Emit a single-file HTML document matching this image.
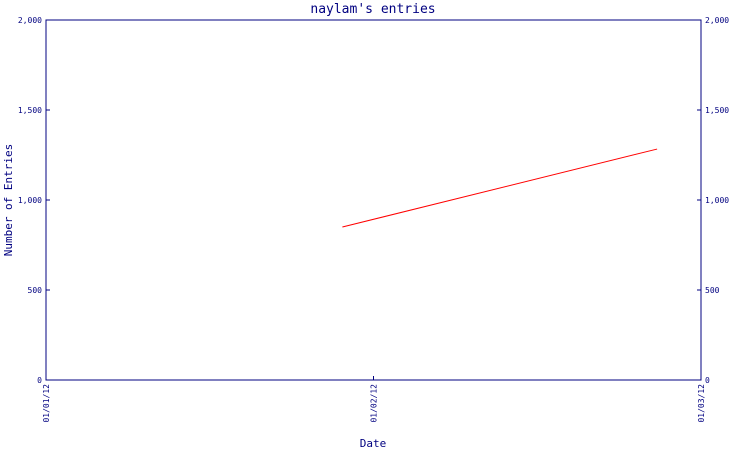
<!DOCTYPE html>
<html><head><meta charset="utf-8"><style>
body{margin:0;background:#fff}
svg text{font-family:"DejaVu Sans Mono","Liberation Mono",monospace;fill:#000080}
</style></head><body>
<svg id="chart" width="750" height="450" xmlns="http://www.w3.org/2000/svg">
<text x="373" y="13" text-anchor="middle" font-size="13">naylam's entries</text>
<rect x="46" y="20" width="655" height="360" fill="none" stroke="#000080" stroke-width="1"/>
<text x="12" y="200" text-anchor="middle" font-size="11" transform="rotate(-90 12 200)">Number of Entries</text>
<text x="373" y="447" text-anchor="middle" font-size="11">Date</text>
<g id="axes"></g>
<g id="series"></g>
</svg>
<script>
const yTicks=[0,500,1000,1500,2000];
const yTickLabels=["0","500","1,000","1,500","2,000"];
const xTickPos=[0,1,2];
const xTickLabels=["01/01/12","01/02/12","01/03/12"];
const seriesX=[0.905,1.866];
const seriesY=[850,1283];
const L=46,R=701,T=20,B=380;
const xs=v=>L+(R-L)*v/2;
const ys=v=>B-(B-T)*v/2000;
const NS="http://www.w3.org/2000/svg";
const ax=document.getElementById('axes');
function mk(t,a,p){const e=document.createElementNS(NS,t);for(const k in a)e.setAttribute(k,a[k]);p.appendChild(e);return e;}
yTicks.forEach((v,i)=>{
 const y=ys(v);
 const t1=mk('line',{x1:L,x2:L+4,y1:y,y2:y,stroke:'#000080'},ax);
 
 
 const t2=mk('line',{x1:R-4,x2:R,y1:y,y2:y,stroke:'#000080'},ax);
 
 
 const l1=mk('text',{x:L-4,y:y+3,'text-anchor':'end','font-size':'8'},ax);
 l1.textContent=yTickLabels[i];
 
 
 const l2=mk('text',{x:R+4,y:y+3,'font-size':'8'},ax);
 l2.textContent=yTickLabels[i];
 
 
});
xTickPos.forEach((v,i)=>{
 const x=xs(v);
 const t=mk('line',{x1:x,x2:x,y1:B-4,y2:B,stroke:'#000080'},ax);
 
 
 const l=mk('text',{x:x+3,y:B+4,'text-anchor':'end','font-size':'8',transform:`rotate(-90 ${x+3} ${B+4})`},ax);
 l.textContent=xTickLabels[i];
 
 
});
const pts=seriesX.map((x,i)=>xs(x)+','+ys(seriesY[i])).join(' ');
const pl=mk('polyline',{points:pts,fill:'none',stroke:'#ff0000','stroke-width':1},document.getElementById('series'));


</script>
</body></html>
